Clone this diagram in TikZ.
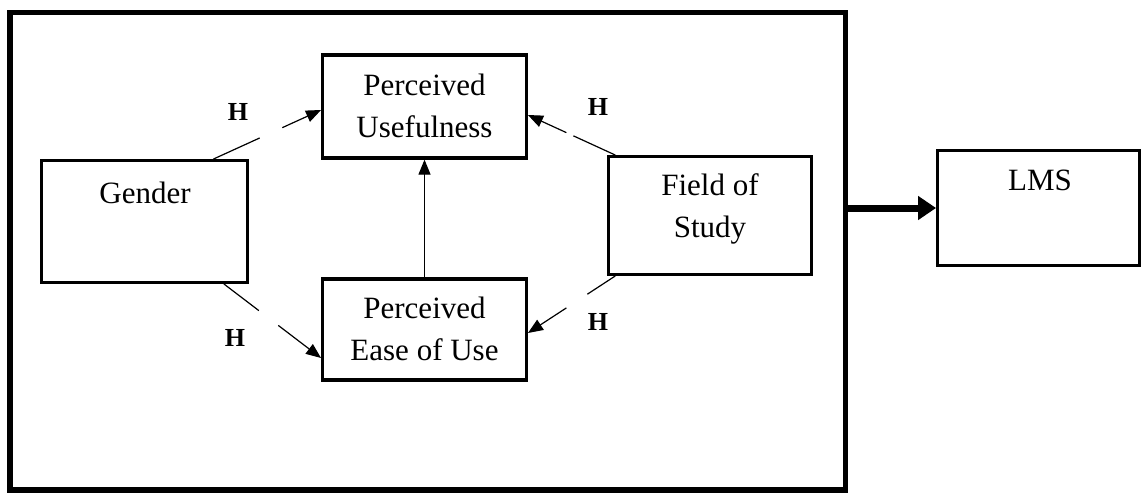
\documentclass[tikz,border=0pt]{standalone}
\usepackage{fontspec}
\setmainfont{Liberation Serif}
\usetikzlibrary{arrows.meta,calc,positioning}

\begin{document}
\begin{tikzpicture}[x=0.5pt,y=-0.5pt,
  box/.style={draw,line width=1.65pt,inner sep=0pt},
  txt/.style={align=center,inner sep=0pt,font=\fontsize{15.5}{21}\selectfont},
  hyp/.style={inner sep=0pt,font=\fontsize{13}{15}\selectfont\bfseries},
  link/.style={line width=0.6pt},
  tip/.style={line width=0.6pt,-{Triangle[length=7.5pt,width=6pt]}}]
\useasboundingbox (0,0) rectangle (1143,492);
% outer frame and the boxes
\node[draw,line width=2.75pt,inner sep=0pt,minimum width=417.75pt,minimum height=238.75pt] (frame) at (427.75,251.25) {};
\node[box,minimum width=102.8pt,minimum height=60.8pt] (gender) at (144.5,221.5) {};
\node[box,minimum width=101.8pt,minimum height=51.5pt] (pu) at (424.5,106.5) {};
\node[box,minimum width=101.8pt,minimum height=50.5pt] (peou) at (424.5,329.5) {};
\node[box,minimum width=101.3pt,minimum height=58.8pt] (field) at (710,215.5) {};
\node[box,minimum width=100.8pt,minimum height=57.3pt] (lms) at (1038.5,208) {};
\node[txt] (gendertxt) at (145,193) {Gender};
\node[txt] (putxt) at (424.5,106) {Perceived\\Usefulness};
\node[txt] (peoutxt) at (424.5,329) {Perceived\\Ease of Use};
\node[txt] (fieldtxt) at (710,209) {Field of\\Study};
\node[txt] (lmstxt) at (1040,180) {LMS};
% hypotheses
\node[hyp] (h1) at (238,112) {H};
\node[hyp] (h2) at (235,338) {H};
\node[hyp] (h3) at (598,107) {H};
\node[hyp] (h4) at (598,322) {H};
\coordinate (g1) at ($(gender.north west)!0.83!(gender.north east)$);
\coordinate (g2) at ($(gender.south west)!0.88!(gender.south east)$);
\coordinate (f1) at ($(field.north west)!0.04!(field.north east)$);
\coordinate (f2) at ($(field.south west)!0.04!(field.south east)$);
\coordinate (pu1) at ([yshift=-1.75pt]pu.west);
\coordinate (pu2) at ([yshift=-4.25pt]pu.east);
\coordinate (peou1) at ([yshift=-14.25pt]peou.west);
\coordinate (peou2) at ([yshift=-1.75pt]peou.east);
\draw[link] (g1) -- ($(g1)!0.43!(pu1)$); \draw[tip] ($(g1)!0.64!(pu1)$) -- (pu1);
\draw[link] (g2) -- ($(g2)!0.36!(peou1)$); \draw[tip] ($(g2)!0.56!(peou1)$) -- (peou1);
\draw[link] (f1) -- ($(f1)!0.48!(pu2)$); \draw[tip] ($(f1)!0.56!(pu2)$) -- (pu2);
\draw[link] (f2) -- ($(f2)!0.32!(peou2)$); \draw[tip] ($(f2)!0.56!(peou2)$) -- (peou2);
\draw[tip] (peou.north) -- (pu.south);
% frame to LMS
\draw[line width=3.5pt,-{Triangle[length=9pt,width=11.5pt]}] (frame.east |- lms.west) -- (lms.west);
\end{tikzpicture}
\end{document}
